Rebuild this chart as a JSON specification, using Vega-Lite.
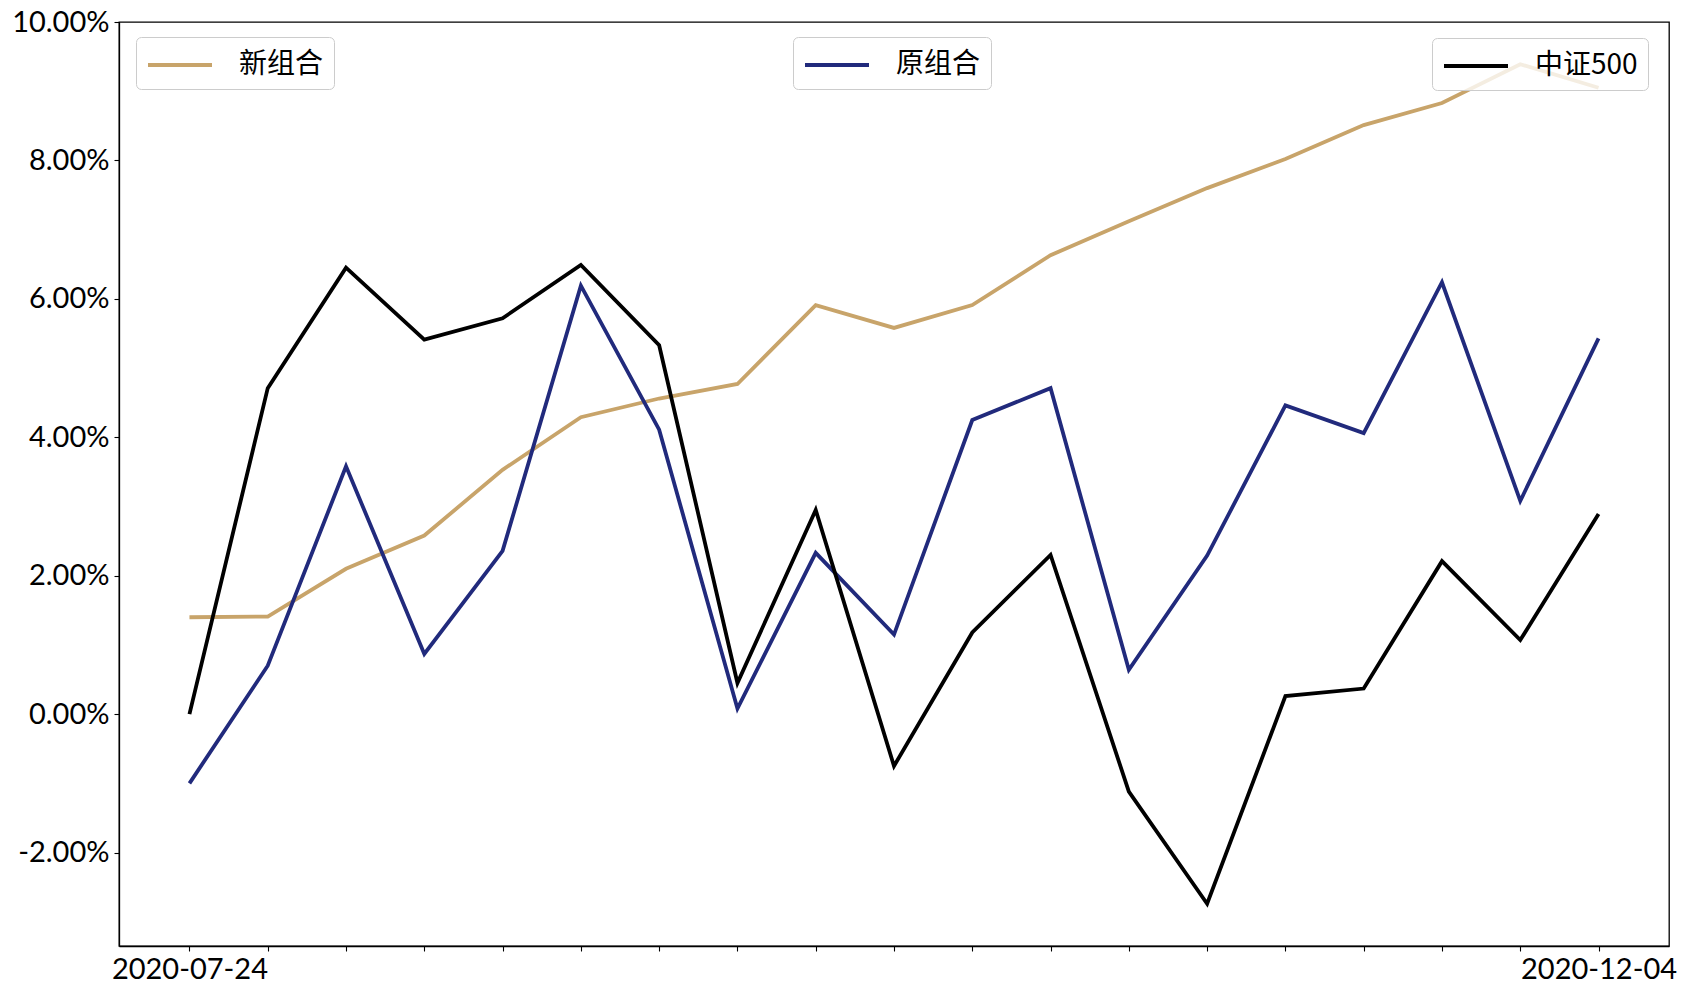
{
  "$schema": "https://vega.github.io/schema/vega-lite/v6.json",
  "width": 1550,
  "height": 924,
  "autosize": {"type": "none"},
  "padding": {"left": 119, "top": 22, "right": 17, "bottom": 49},
  "background": "white",
  "config": {
    "view": {"stroke": "black", "strokeWidth": 1.3},
    "axis": {
      "grid": false,
      "domainColor": "black",
      "domainWidth": 1.3,
      "tickColor": "black",
      "tickWidth": 1.1,
      "tickSize": 5,
      "labelFont": "Lato",
      "labelFontSize": 29,
      "labelColor": "black",
      "title": null
    },
    "legend": {
      "orient": "none",
      "title": null,
      "fillColor": "rgba(255,255,255,0.8)",
      "strokeColor": "#cccccc",
      "cornerRadius": 5,
      "padding": 10,
      "symbolType": "M-1,0H3",
      "symbolSize": 1024,
      "symbolStrokeWidth": 3.8,
      "labelFont": "Noto Sans CJK SC",
      "labelFontSize": 28,
      "labelColor": "black",
      "labelOffset": 57
    }
  },
  "data": {
    "values": [
      {"date": "2020-07-24", "series": "新组合", "value": 1.40},
      {"date": "2020-07-31", "series": "新组合", "value": 1.41},
      {"date": "2020-08-07", "series": "新组合", "value": 2.10},
      {"date": "2020-08-14", "series": "新组合", "value": 2.58},
      {"date": "2020-08-21", "series": "新组合", "value": 3.53},
      {"date": "2020-08-28", "series": "新组合", "value": 4.29},
      {"date": "2020-09-04", "series": "新组合", "value": 4.56},
      {"date": "2020-09-11", "series": "新组合", "value": 4.77},
      {"date": "2020-09-18", "series": "新组合", "value": 5.91},
      {"date": "2020-09-25", "series": "新组合", "value": 5.58},
      {"date": "2020-10-09", "series": "新组合", "value": 5.91},
      {"date": "2020-10-16", "series": "新组合", "value": 6.63},
      {"date": "2020-10-23", "series": "新组合", "value": 7.12},
      {"date": "2020-10-30", "series": "新组合", "value": 7.60},
      {"date": "2020-11-06", "series": "新组合", "value": 8.02},
      {"date": "2020-11-13", "series": "新组合", "value": 8.51},
      {"date": "2020-11-20", "series": "新组合", "value": 8.83},
      {"date": "2020-11-27", "series": "新组合", "value": 9.39},
      {"date": "2020-12-04", "series": "新组合", "value": 9.05},
      {"date": "2020-07-24", "series": "原组合", "value": -1.00},
      {"date": "2020-07-31", "series": "原组合", "value": 0.70},
      {"date": "2020-08-07", "series": "原组合", "value": 3.58},
      {"date": "2020-08-14", "series": "原组合", "value": 0.87},
      {"date": "2020-08-21", "series": "原组合", "value": 2.36},
      {"date": "2020-08-28", "series": "原组合", "value": 6.19},
      {"date": "2020-09-04", "series": "原组合", "value": 4.11},
      {"date": "2020-09-11", "series": "原组合", "value": 0.08},
      {"date": "2020-09-18", "series": "原组合", "value": 2.33},
      {"date": "2020-09-25", "series": "原组合", "value": 1.15},
      {"date": "2020-10-09", "series": "原组合", "value": 4.25},
      {"date": "2020-10-16", "series": "原组合", "value": 4.71},
      {"date": "2020-10-23", "series": "原组合", "value": 0.64},
      {"date": "2020-10-30", "series": "原组合", "value": 2.29},
      {"date": "2020-11-06", "series": "原组合", "value": 4.46},
      {"date": "2020-11-13", "series": "原组合", "value": 4.06},
      {"date": "2020-11-20", "series": "原组合", "value": 6.24},
      {"date": "2020-11-27", "series": "原组合", "value": 3.08},
      {"date": "2020-12-04", "series": "原组合", "value": 5.43},
      {"date": "2020-07-24", "series": "中证500", "value": 0.00},
      {"date": "2020-07-31", "series": "中证500", "value": 4.71},
      {"date": "2020-08-07", "series": "中证500", "value": 6.45},
      {"date": "2020-08-14", "series": "中证500", "value": 5.41},
      {"date": "2020-08-21", "series": "中证500", "value": 5.72},
      {"date": "2020-08-28", "series": "中证500", "value": 6.49},
      {"date": "2020-09-04", "series": "中证500", "value": 5.33},
      {"date": "2020-09-11", "series": "中证500", "value": 0.45},
      {"date": "2020-09-18", "series": "中证500", "value": 2.95},
      {"date": "2020-09-25", "series": "中证500", "value": -0.75},
      {"date": "2020-10-09", "series": "中证500", "value": 1.18},
      {"date": "2020-10-16", "series": "中证500", "value": 2.30},
      {"date": "2020-10-23", "series": "中证500", "value": -1.12},
      {"date": "2020-10-30", "series": "中证500", "value": -2.74},
      {"date": "2020-11-06", "series": "中证500", "value": 0.26},
      {"date": "2020-11-13", "series": "中证500", "value": 0.37},
      {"date": "2020-11-20", "series": "中证500", "value": 2.21},
      {"date": "2020-11-27", "series": "中证500", "value": 1.07},
      {"date": "2020-12-04", "series": "中证500", "value": 2.89}
    ]
  },
  "encoding": {
    "x": {
      "field": "date",
      "type": "ordinal",
      "scale": {"type": "point", "padding": 0.9},
      "axis": {
        "labelAngle": 0,
        "labelPadding": 4,
        "labelExpr": "datum.value == '2020-07-24' || datum.value == '2020-12-04' ? datum.value : ''"
      }
    },
    "y": {
      "field": "value",
      "type": "quantitative",
      "scale": {"domain": [-3.35, 10.0], "nice": false, "zero": false},
      "axis": {
        "values": [-2, 0, 2, 4, 6, 8, 10],
        "labelPadding": 5,
        "labelExpr": "replace(format(datum.value, '.2f'), '\u2212', '-') + '%'"
      }
    }
  },
  "layer": [
    {
      "transform": [{"filter": "datum.series == '新组合'"}],
      "mark": {"type": "line", "strokeWidth": 3.8},
      "encoding": {
        "color": {
          "field": "series",
          "type": "nominal",
          "scale": {"domain": ["新组合"], "range": ["#C8A46A"]},
          "legend": {"legendX": 17, "legendY": 15}
        }
      }
    },
    {
      "transform": [{"filter": "datum.series == '原组合'"}],
      "mark": {"type": "line", "strokeWidth": 3.8},
      "encoding": {
        "color": {
          "field": "series",
          "type": "nominal",
          "scale": {"domain": ["原组合"], "range": ["#212A7C"]},
          "legend": {"legendX": 674, "legendY": 15}
        }
      }
    },
    {
      "transform": [{"filter": "datum.series == '中证500'"}],
      "mark": {"type": "line", "strokeWidth": 3.8},
      "encoding": {
        "color": {
          "field": "series",
          "type": "nominal",
          "scale": {"domain": ["中证500"], "range": ["#000000"]},
          "legend": {"legendX": 1313, "legendY": 16}
        }
      }
    }
  ],
  "resolve": {"scale": {"color": "independent"}}
}
